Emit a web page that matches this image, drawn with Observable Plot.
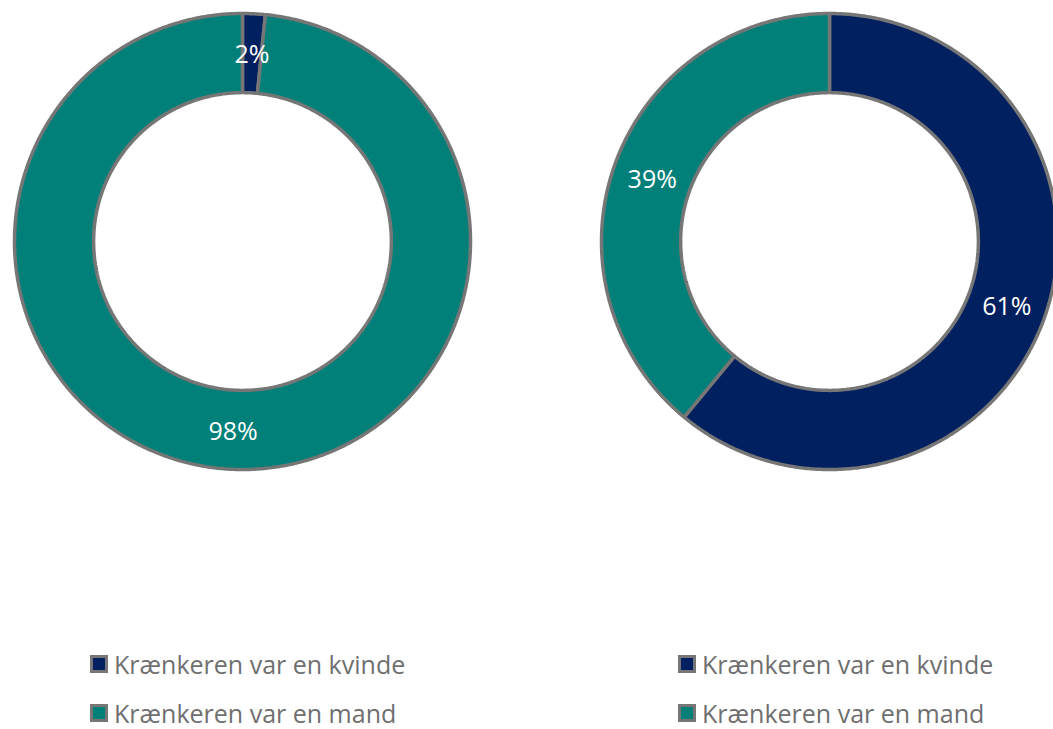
<!DOCTYPE html>
<html>
<head>
<meta charset="utf-8">
<script src="https://cdn.jsdelivr.net/npm/d3@7"></script>
<script src="https://cdn.jsdelivr.net/npm/@observablehq/plot@0.6"></script>
<style>
  html, body { margin: 0; padding: 0; background: #fff; }
  #wrap { position: relative; width: 1053px; height: 729px; overflow: hidden; font-family: "Open Sans", "Noto Sans", sans-serif; }
  .legend { position: absolute; top: 652px; }
  .row { display: flex; align-items: center; height: 24px; margin-bottom: 25px; font-size: 25px; line-height: 1; color: #6f6f6f; white-space: nowrap; font-weight: 400; }
  .row span { line-height: 1; }
  .sw { width: 12px; height: 12px; border: 3px solid #767676; margin-right: 6px; }
</style>
</head>
<body>
<div id="wrap"></div>
<script>
// ---- data ----
const categories = ["Krænkeren var en kvinde", "Krænkeren var en mand"];
const colors = ["#002060", "#008079"];
const leftValues = [1.6, 98.4];   // shown as 2% / 98%
const rightValues = [61, 39];
const charts = [
  {name: "left", cx: 0, values: leftValues},
  {name: "right", cx: 2.5746, values: rightValues}
];
const outerR = 1;
const innerR = 0.653;

// build slice polygons and labels
const points = [];
const labels = [];
for (const c of charts) {
  const total = d3.sum(c.values);
  let acc = 0;
  c.values.forEach((v, i) => {
    const a0 = acc / total * 2 * Math.PI;
    const a1 = (acc + v) / total * 2 * Math.PI;
    acc += v;
    const id = c.name + "-" + i;
    const n = Math.max(4, Math.ceil((a1 - a0) / (Math.PI / 360)));
    for (let k = 0; k <= n; k++) {
      const a = a0 + (a1 - a0) * k / n;
      points.push({id, cat: categories[i], x: c.cx + outerR * Math.sin(a), y: outerR * Math.cos(a)});
    }
    for (let k = n; k >= 0; k--) {
      const a = a0 + (a1 - a0) * k / n;
      points.push({id, cat: categories[i], x: c.cx + innerR * Math.sin(a), y: innerR * Math.cos(a)});
    }
    const am = (a0 + a1) / 2, rm = (outerR + innerR) / 2;
    labels.push({x: c.cx + rm * Math.sin(am), y: rm * Math.cos(am), text: Math.round(v / total * 100) + "%"});
  });
}

const W = 1053, H = 640, R = 228, CX = 242, CY = 241;
const chart = Plot.plot({
  width: W, height: H,
  margin: 0,
  x: {domain: [-CX / R, (W - CX) / R], axis: null},
  y: {domain: [(CY - H) / R, CY / R], axis: null},
  color: {domain: categories, range: colors},
  style: {background: "white"},
  marks: [
    Plot.line(points, {x: "x", y: "y", z: "id", fill: "cat", stroke: "#767676", strokeWidth: 3.5, curve: "linear-closed", strokeLinejoin: "miter"}),
    Plot.text(labels, {x: "x", y: "y", text: "text", fill: "white", fontSize: 25, fontWeight: 400, dy: 2, fontFamily: "Open Sans, Noto Sans, sans-serif"})
  ]
});
const wrap = document.getElementById("wrap");
wrap.appendChild(chart);

for (const left of [90, 678]) {
  const lg = document.createElement("div");
  lg.className = "legend";
  lg.style.left = left + "px";
  categories.forEach((c, i) => {
    const row = document.createElement("div");
    row.className = "row";
    const sw = document.createElement("div");
    sw.className = "sw";
    sw.style.background = colors[i];
    const t = document.createElement("span");
    t.textContent = c;
    row.appendChild(sw); row.appendChild(t);
    lg.appendChild(row);
  });
  wrap.appendChild(lg);
}
</script>
</body>
</html>
